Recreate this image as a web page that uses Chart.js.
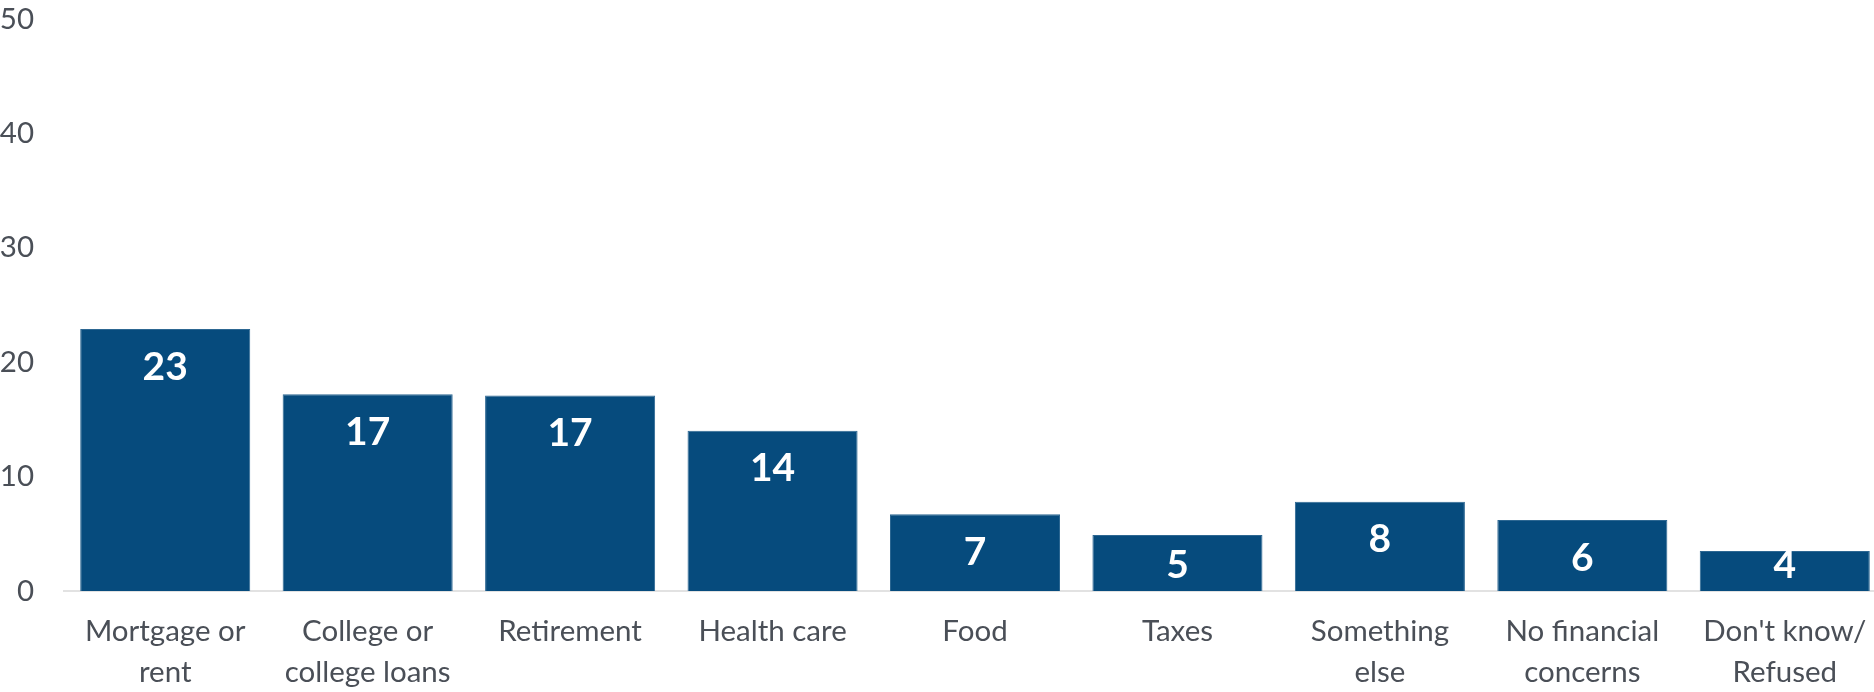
<!DOCTYPE html>
<html>
<head>
<meta charset="utf-8">
<script src="https://cdn.jsdelivr.net/npm/chart.js@4.4.1/dist/chart.umd.min.js"></script>
<style>
html,body{margin:0;padding:0;background:#fff;overflow:hidden;}
#wrap{width:1886px;height:692px;position:relative;}
</style>
</head>
<body>
<div id="wrap"><canvas id="c"></canvas></div>
<script>
const categories = [
  ["Mortgage or", "rent"],
  ["College or", "college loans"],
  ["Retirement"],
  ["Health care"],
  ["Food"],
  ["Taxes"],
  ["Something", "else"],
  ["No financial", "concerns"],
  ["Don't know/", "Refused"]
];
const values = [22.9, 17.2, 17.1, 14.0, 6.7, 4.9, 7.8, 6.2, 3.5];
const valueLabels = ["23", "17", "17", "14", "7", "5", "8", "6", "4"];
const yTicks = [0, 10, 20, 30, 40, 50];

const FONT = "Lato, 'Open Sans', sans-serif";

const barLabels = {
  id: 'barLabels',
  afterDatasetsDraw(chart) {
    const ctx = chart.ctx;
    const meta = chart.getDatasetMeta(0);
    ctx.save();
    ctx.fillStyle = '#ffffff';
    ctx.font = "bold 39px " + FONT;
    ctx.textAlign = 'center';
    ctx.textBaseline = 'middle';
    meta.data.forEach((bar, i) => {
      const y = Math.min(bar.y + 38, bar.base - 26);
      ctx.fillText(valueLabels[i], bar.x, y);
    });
    ctx.restore();
  }
};

new Chart(document.getElementById('c'), {
  type: 'bar',
  data: {
    labels: categories,
    datasets: [{
      data: values,
      backgroundColor: '#064b7d',
      borderColor: '#2d6792',
      borderWidth: 1,
      barPercentage: 0.84,
      categoryPercentage: 1.0
    }]
  },
  options: {
    responsive: true,
    maintainAspectRatio: false,
    animation: false,
    layout: { padding: { top: 19, right: 0, left: 0, bottom: 0 } },
    plugins: { legend: { display: false }, tooltip: { enabled: false } },
    scales: {
      x: {
        grid: { display: false, drawTicks: false },
        border: { display: true, color: '#e2e2e2', width: 2 },
        ticks: {
          color: '#4a4f57',
          font: { family: FONT, size: 29.5, lineHeight: 1.4 },
          padding: 20,
          maxRotation: 0,
          autoSkip: false
        },
        afterFit(scale) { scale.height = 101; scale.paddingLeft = 0; scale.paddingRight = 0; }
      },
      y: {
        min: 0, max: 50,
        afterBuildTicks(scale) { scale.ticks = yTicks.map(v => ({ value: v })); },
        grid: { display: false, drawTicks: false },
        border: { display: false },
        ticks: {
          color: '#4a4f57',
          font: { family: FONT, size: 29.5 },
          padding: 30
        },
        afterFit(scale) { scale.width = 64; scale.paddingTop = 0; scale.paddingBottom = 0; }
      }
    }
  },
  plugins: [barLabels]
});
</script>
</body>
</html>
